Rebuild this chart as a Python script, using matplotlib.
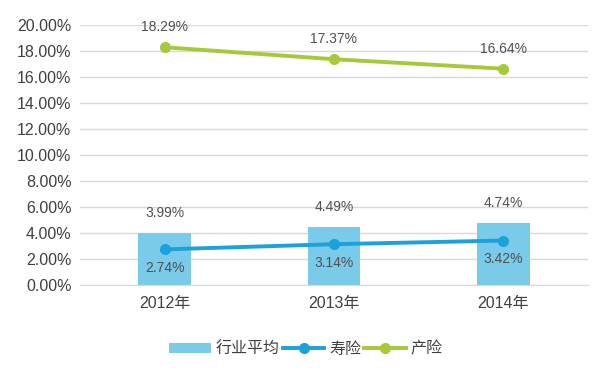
import matplotlib
matplotlib.use("Agg")
import matplotlib.pyplot as plt
from matplotlib.ticker import FuncFormatter

plt.rcParams['font.family'] = ['Liberation Sans', 'Noto Sans CJK SC']

categories = ["2012年", "2013年", "2014年"]
industry_avg = [3.99, 4.49, 4.74]
life = [2.74, 3.14, 3.42]
property_ = [18.29, 17.37, 16.64]
series_names = ["行业平均", "寿险", "产险"]

c_bar = "#7ACBEA"
c_life = "#1BA1DC"
c_prop = "#A6C93A"
c_text = "#404040"
c_lab = "#505050"

fig = plt.figure(figsize=(6, 3.68), dpi=100)
ax = fig.add_axes([0.133, 0.2255, 0.847, 0.7065])

x = list(range(len(categories)))
hb = ax.bar(x, industry_avg, width=0.31, color=c_bar, label=series_names[0], zorder=2)
hl, = ax.plot(x, life, color=c_life, lw=2.8, marker="o", ms=7, label=series_names[1], zorder=3)
hp, = ax.plot(x, property_, color=c_prop, lw=2.8, marker="o", ms=7, label=series_names[2], zorder=3)

for xi, v in zip(x, industry_avg):
    ax.text(xi, v + 1.0, f"{v:.2f}%", ha="center", va="bottom", fontsize=10, color=c_lab)
for xi, v in zip(x, life):
    ax.text(xi, v - 0.9, f"{v:.2f}%", ha="center", va="top", fontsize=10, color=c_lab)
for xi, v in zip(x, property_):
    ax.text(xi, v + 1.0, f"{v:.2f}%", ha="center", va="bottom", fontsize=10, color=c_lab)

ax.set_ylim(0, 20)
ax.set_yticks([i * 2 for i in range(11)])
ax.yaxis.set_major_formatter(FuncFormatter(lambda v, p: f"{v:.2f}%"))
ax.set_xlim(-0.5, 2.5)
ax.set_xticks(x)
ax.set_xticklabels(categories)
ax.tick_params(axis="both", length=0, labelsize=11.5, colors=c_text, pad=6)
ax.tick_params(axis="x", pad=8)
ax.grid(axis="y", color="#D9D9D9", lw=1, zorder=0)
for s in ["top", "right", "left"]:
    ax.spines[s].set_visible(False)
ax.spines["bottom"].set_color("#D9D9D9")

fig.legend(handles=[hb, hl, hp], labels=series_names, loc="lower center",
           bbox_to_anchor=(0.51, -0.008), ncol=3, frameon=False,
           fontsize=11.5, labelcolor=c_text, handlelength=2.6, handleheight=0.6,
           columnspacing=0.2, handletextpad=0.3)

fig.savefig("out.png", dpi=100)
